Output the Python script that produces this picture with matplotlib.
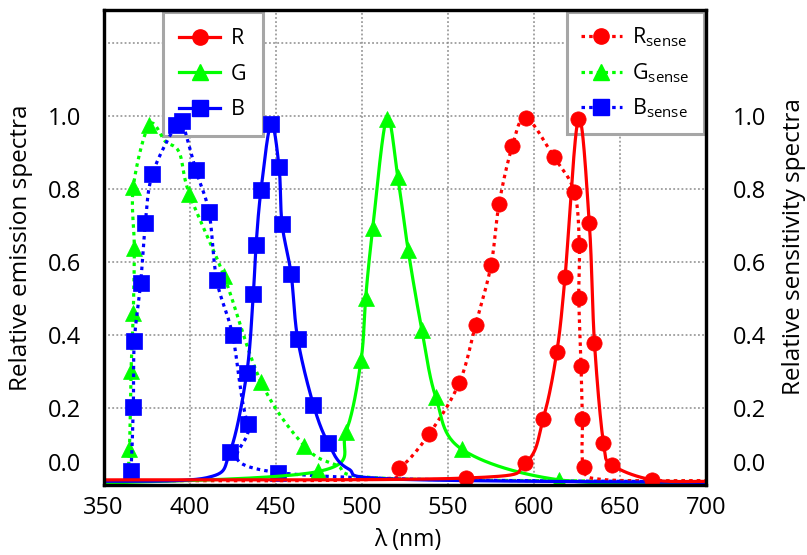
import numpy as np
import matplotlib
matplotlib.use('Agg')
import matplotlib.pyplot as plt
from matplotlib.lines import Line2D

plt.rcParams['font.family'] = ['Open Sans', 'DejaVu Sans']
plt.rcParams['mathtext.fontset'] = 'custom'
plt.rcParams['mathtext.rm'] = 'Open Sans'
plt.rcParams['mathtext.it'] = 'Open Sans:italic'

# emission spectra (solid); *_mk = 1 where a marker sits on the knot
r_wl = [350, 560.6, 594.9, 605.5, 613.3, 618.1, 625.9, 632.2, 635.2, 640.4, 645.6, 668.9, 700]
r_val = [0.004, 0.009, 0.05, 0.172, 0.353, 0.559, 0.993, 0.707, 0.38, 0.106, 0.045, 0.004, 0.0]
r_mk = [0, 1, 1, 1, 1, 1, 1, 1, 1, 1, 1, 1, 0]

g_wl = [350, 474.8, 490.9, 499.6, 502.3, 506.4, 514.5, 521, 527, 534.9, 543, 558.1, 614.8, 700]
g_val = [-0.005, 0.027, 0.136, 0.331, 0.503, 0.693, 0.993, 0.832, 0.632, 0.415, 0.231, 0.088, 0.004, -0.004]
g_mk = [0, 1, 1, 1, 1, 1, 1, 1, 1, 1, 1, 1, 1, 0]

b_wl = [350, 410, 423.5, 433.2, 437, 438.6, 441.5, 447.3, 452, 453.7, 459, 462.8, 471.9, 480.6, 492, 520, 700]
b_val = [0.0, 0.01, 0.081, 0.296, 0.512, 0.646, 0.798, 0.979, 0.859, 0.705, 0.567, 0.39, 0.21, 0.104, 0.035, 0.006, -0.003]
b_mk = [0, 0, 1, 1, 1, 1, 1, 1, 1, 1, 1, 1, 1, 1, 0, 0, 0]

# sensitivity spectra (dotted)
rs_wl = [350, 505, 521.9, 539.1, 556.7, 566.2, 575.1, 579.8, 587.5, 595.4, 611.6, 623.5, 626.4, 626.1, 627.4, 628.2, 629, 640, 700]
rs_val = [0.002, 0.005, 0.036, 0.129, 0.27, 0.429, 0.591, 0.76, 0.918, 0.995, 0.888, 0.793, 0.648, 0.503, 0.317, 0.172, 0.038, 0.005, 0.002]
rs_mk = [0, 0, 1, 1, 1, 1, 1, 1, 1, 1, 1, 1, 1, 1, 1, 1, 1, 0, 0]

gs_wl = [350, 362.5, 365, 366, 367.3, 367.9, 367.3, 376.6, 386, 394, 399.9, 420, 441.5, 466.7, 485, 515, 700]
gs_val = [0.0, 0.002, 0.088, 0.302, 0.462, 0.639, 0.805, 0.976, 0.93, 0.9, 0.786, 0.562, 0.272, 0.097, 0.045, 0.008, 0.0]
gs_mk = [0, 0, 1, 1, 1, 1, 1, 1, 0, 0, 1, 1, 1, 1, 0, 0, 0]

bs_wl = [350, 363, 365.8, 367.3, 367.9, 371.6, 374.3, 378.4, 392.1, 395.5, 403.6, 411.3, 415.8, 425, 433.8, 451.6, 700]
bs_val = [-0.003, -0.002, 0.027, 0.204, 0.383, 0.544, 0.707, 0.841, 0.976, 0.985, 0.852, 0.736, 0.55, 0.40, 0.158, 0.024, -0.002]
bs_mk = [0, 0, 1, 1, 1, 1, 1, 1, 1, 1, 1, 1, 1, 1, 1, 1, 0]


def smooth(xs, ys, n=30):
    # bezier smoothing through the knots (catmull-rom style tangents)
    p = np.column_stack([xs, ys]).astype(float)
    out = []
    t = np.linspace(0, 1, n)[:, None]
    for i in range(len(p) - 1):
        p0 = p[i - 1] if i > 0 else p[i]
        p3 = p[i + 2] if i + 2 < len(p) else p[i + 1]
        c1 = p[i] + (p[i + 1] - p0) / 6
        c2 = p[i + 1] - (p3 - p[i]) / 6
        seg = ((1 - t) ** 3) * p[i] + 3 * ((1 - t) ** 2) * t * c1 \
            + 3 * (1 - t) * t ** 2 * c2 + t ** 3 * p[i + 1]
        out.append(seg if i == 0 else seg[1:])
    out = np.vstack(out)
    return out[:, 0], out[:, 1]


RED, GREEN, BLUE = '#FF0000', '#00FF00', '#0000FF'
LW = 2.3
DOT = (0, (1.1, 1.3))

fig = plt.figure(figsize=(8.07, 5.55), dpi=100)
ax = fig.add_axes([103.5 / 807, 1 - 485 / 555, 602.5 / 807, 475 / 555])
ax.set_axisbelow(True)

series = [
    (gs_wl, gs_val, gs_mk, GREEN, DOT, '^', 12),
    (bs_wl, bs_val, bs_mk, BLUE, DOT, 's', 12),
    (rs_wl, rs_val, rs_mk, RED, DOT, 'o', 11),
    (g_wl, g_val, g_mk, GREEN, '-', '^', 12),
    (b_wl, b_val, b_mk, BLUE, '-', 's', 12),
    (r_wl, r_val, r_mk, RED, '-', 'o', 11),
]
for wl, val, mk, col, ls, m, ms in series:
    sx, sy = smooth(wl, val)
    ax.plot(sx, sy, color=col, lw=LW, linestyle=ls, solid_capstyle='butt')
    wl = np.array(wl)
    val = np.array(val)
    sel = np.array(mk) == 1
    ax.plot(wl[sel], val[sel], linestyle='none', marker=m, ms=ms,
            color=col, markeredgecolor=col, markeredgewidth=0.5)

ax.set_xlim(350, 700)
ax.set_ylim(-0.01, 1.29)
ax.set_xticks(range(350, 701, 50))
ax.set_yticks([0.2, 0.4, 0.6, 0.8, 1.0, 1.2], ['0.2', '0.4', '0.6', '0.8', '1.0', ''])
ax.grid(True, color='#8C8C8C', linestyle=(0, (1.2, 1.5)), lw=1.1)
ax.tick_params(axis='both', length=0, labelsize=17)
ax.tick_params(axis='y', pad=16)
ax.tick_params(axis='x', pad=8)
for s in ax.spines.values():
    s.set_linewidth(2.3)
    s.set_color('black')

ax2 = ax.twinx()
ax2.set_ylim(ax.get_ylim())
ax2.set_yticks([0.2, 0.4, 0.6, 0.8, 1.0], ['0.2', '0.4', '0.6', '0.8', '1.0'])
ax2.tick_params(axis='y', length=0, labelsize=17, pad=19)
for s in ax2.spines.values():
    s.set_linewidth(2.3)

# the 0.0 labels sit a little above the bottom edge
ax.annotate('0.0', xy=(0, 0), xycoords=('axes fraction', 'data'),
            xytext=(-16, 12), textcoords='offset points',
            ha='right', va='center', fontsize=17)
ax.annotate('0.0', xy=(1, 0), xycoords=('axes fraction', 'data'),
            xytext=(19, 12), textcoords='offset points',
            ha='left', va='center', fontsize=17)

fig.text(408 / 807, 1 - 540 / 555, 'λ (nm)', ha='center', va='center', fontsize=16.5)
fig.text(21 / 807, 1 - 248 / 555, 'Relative emission spectra', rotation=90,
         ha='center', va='center', fontsize=17.5)
fig.text(794 / 807, 1 - 247 / 555, 'Relative sensitivity spectra', rotation=90,
         ha='center', va='center', fontsize=17.5)


def handle(col, ls, m, ms):
    return Line2D([], [], color=col, lw=LW, linestyle=ls, marker=m, ms=ms,
                  markeredgecolor=col)


# legends sit under the curves but above the grid
leg_kw = dict(fontsize=15.5, frameon=True, fancybox=False, framealpha=1,
              edgecolor='#A6A6A6', handlelength=1.9, handletextpad=0.5,
              borderaxespad=0, loc='upper left')
leg1 = ax.legend([handle(RED, '-', 'o', 11), handle(GREEN, '-', '^', 12), handle(BLUE, '-', 's', 12)],
                 ['R', 'G', 'B'], bbox_to_anchor=(0.099, 0.996),
                 borderpad=0.75, labelspacing=0.68, **leg_kw)
leg1.get_frame().set_linewidth(2.2)
leg1.set_zorder(1.5)
ax.add_artist(leg1)
leg2 = ax.legend([handle(RED, DOT, 'o', 11), handle(GREEN, DOT, '^', 12), handle(BLUE, DOT, 's', 12)],
                 [r'R$_{\mathrm{sense}}$', r'G$_{\mathrm{sense}}$', r'B$_{\mathrm{sense}}$'],
                 bbox_to_anchor=(0.769, 0.996),
                 borderpad=0.65, labelspacing=0.55, **leg_kw)
leg2.get_frame().set_linewidth(2.2)
leg2.set_zorder(1.5)

fig.savefig('out.png', dpi=100)
